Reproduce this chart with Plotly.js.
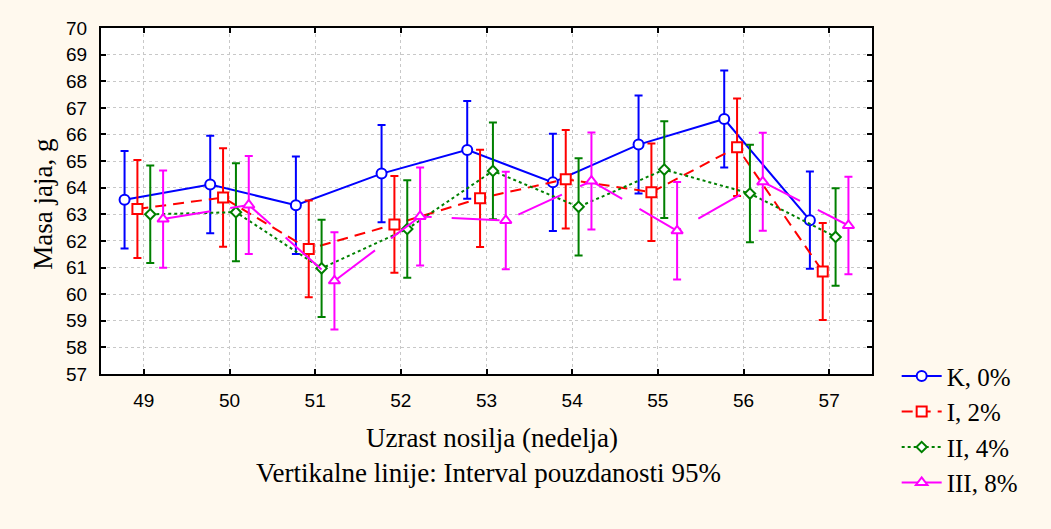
<!DOCTYPE html>
<html>
<head>
<meta charset="utf-8">
<script src="https://cdn.plot.ly/plotly-3.0.1.min.js"></script>
<style>
  html, body { margin: 0; padding: 0; background: #FFF9EE; }
  #chart { width: 1051px; height: 529px; }
</style>
</head>
<body>
<div id="chart"></div>
<script>
// Weeks (x categories)
const weeks = [49, 50, 51, 52, 53, 54, 55, 56, 57];

// Series means (egg mass, g)
const seriesNames = ["K, 0%", "I, 2%", "II, 4%", "III, 8%"];
const meanK   = [63.55, 64.12, 63.34, 64.53, 65.42, 64.20, 65.62, 66.58, 62.78];
const meanI   = [63.20, 63.63, 61.70, 62.62, 63.60, 64.32, 63.83, 65.52, 60.85];
const meanII  = [63.00, 63.08, 60.97, 62.45, 64.63, 63.28, 64.68, 63.78, 62.15];
const meanIII = [62.82, 63.35, 60.50, 62.92, 62.77, 64.25, 62.38, 64.22, 62.58];

// 95% confidence half-widths
const ciK   = [1.83, 1.83, 1.83, 1.83, 1.84, 1.83, 1.84, 1.82, 1.83];
const ciI   = [1.84, 1.85, 1.82, 1.82, 1.83, 1.85, 1.83, 1.83, 1.82];
const ciII  = [1.83, 1.84, 1.83, 1.83, 1.82, 1.83, 1.82, 1.83, 1.83];
const ciIII = [1.83, 1.84, 1.83, 1.84, 1.83, 1.82, 1.83, 1.84, 1.83];

// Y tick labels
const yTicks = [57, 58, 59, 60, 61, 62, 63, 64, 65, 66, 67, 68, 69, 70];

// --- styling (kept separate from data) ---
const styles = [
  { color: "#0000FF", dash: "solid",      symbol: "circle",       msize: 10, offset: -0.225 },
  { color: "#FF0000", dash: "11px,7px",   symbol: "square",       msize: 10, offset: -0.075 },
  { color: "#008000", dash: "dot",        symbol: "diamond",      msize: 8,  offset:  0.075 },
  { color: "#FF00FF", dash: "48px,20px",  symbol: "triangle-up",  msize: 10, offset:  0.225 }
];
const means = [meanK, meanI, meanII, meanIII];
const cis = [ciK, ciI, ciII, ciIII];

const traces = means.map((m, i) => {
  const s = styles[i];
  return {
    type: "scatter",
    mode: "lines+markers",
    name: seriesNames[i],
    x: weeks.map(w => w + s.offset),
    y: m,
    line: { color: s.color, width: 2, dash: s.dash },
    marker: { symbol: s.symbol, size: s.msize, color: "#FFFFFF", line: { color: s.color, width: 2 } },
    error_y: { type: "data", array: cis[i], visible: true, color: s.color, thickness: 2, width: 4 },
    cliponaxis: false
  };
});

const serif = "Liberation Serif, Times New Roman, serif";
const sans = "Liberation Sans, Arial, sans-serif";

const layout = {
  width: 1051,
  height: 529,
  paper_bgcolor: "#FFF9EE",
  plot_bgcolor: "#FFFFFF",
  margin: { l: 101, r: 179, t: 28, b: 155 },
  showlegend: true,
  legend: {
    x: 1.032, xanchor: "left",
    y: 0.06, yanchor: "top",
    bgcolor: "rgba(0,0,0,0)",
    font: { family: serif, size: 25, color: "#000" },
    tracegroupgap: 0,
    itemwidth: 40
  },
  xaxis: {
    range: [48.5, 57.5],
    tickmode: "array",
    tickvals: weeks,
    ticktext: weeks.map(String),
    ticks: "inside",
    ticklen: 5,
    tickwidth: 2,
    tickcolor: "#000",
    mirror: "ticks",
    showline: true,
    linecolor: "#000",
    linewidth: 2,
    showgrid: true,
    gridcolor: "#C8C8C8",
    griddash: "dot",
    gridwidth: 1,
    zeroline: false,
    tickfont: { family: sans, size: 19, color: "#000" },
    ticklabelstandoff: 8
  },
  yaxis: {
    range: [57, 70],
    tickmode: "array",
    tickvals: yTicks,
    ticktext: yTicks.map(String),
    ticks: "inside",
    ticklen: 5,
    tickwidth: 2,
    tickcolor: "#000",
    mirror: "ticks",
    showline: true,
    linecolor: "#000",
    linewidth: 2,
    showgrid: true,
    gridcolor: "#C8C8C8",
    griddash: "dot",
    gridwidth: 1,
    zeroline: false,
    tickfont: { family: sans, size: 19, color: "#000" },
    ticklabelstandoff: 8
  },
  annotations: [
    {
      text: "Masa jaja, g",
      xref: "paper", yref: "paper",
      x: -0.075, y: 0.49,
      xanchor: "center", yanchor: "middle",
      textangle: -90,
      showarrow: false,
      font: { family: serif, size: 27, color: "#000" }
    },
    {
      text: "Uzrast nosilja (nedelja)",
      xref: "paper", yref: "paper",
      x: 0.507, y: -0.185,
      xanchor: "center", yanchor: "middle",
      showarrow: false,
      font: { family: serif, size: 27, color: "#000" }
    },
    {
      text: "Vertikalne linije: Interval pouzdanosti 95%",
      xref: "paper", yref: "paper",
      x: 0.503, y: -0.286,
      xanchor: "center", yanchor: "middle",
      showarrow: false,
      font: { family: serif, size: 27, color: "#000" }
    }
  ]
};

Plotly.newPlot("chart", traces, layout, { displayModeBar: false, staticPlot: true });
</script>
</body>
</html>
